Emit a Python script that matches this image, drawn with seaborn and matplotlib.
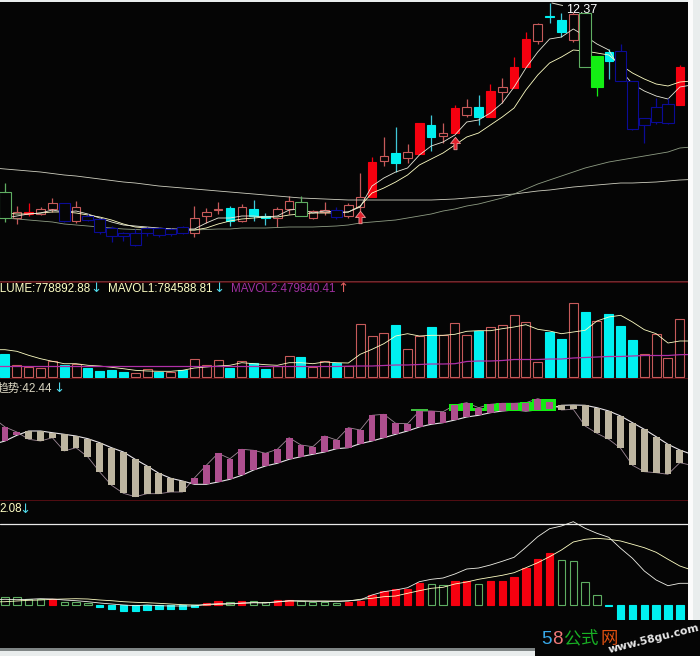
import numpy as np
import pandas as pd
import seaborn as sns
import matplotlib.pyplot as plt
from matplotlib.path import Path
from matplotlib.patches import Rectangle

# candles, index 0..57
high = [8.81,8.35,8.41,8.33,8.51,8.41,8.45,8.19,8.11,7.95,7.83,7.89,7.93,7.93,7.91,7.95,8.35,8.31,8.43,8.35,
        8.39,8.47,8.21,8.33,8.55,8.55,8.27,8.43,8.33,8.41,9.01,9.33,9.73,9.93,9.59,10.01,10.17,10.01,10.37,10.49,
        10.57,10.79,10.91,11.33,11.83,12.01,12.41,12.21,12.23,12.21,11.35,11.49,11.59,10.85,10.11,10.51,10.51,11.17]
body_top = [8.63,8.23,8.23,8.29,8.41,8.41,8.33,8.15,8.09,7.91,7.81,7.81,7.91,7.91,7.89,7.93,8.11,8.23,8.29,8.31,
            8.33,8.29,8.15,8.29,8.45,8.43,8.25,8.27,8.27,8.37,8.53,9.23,9.35,9.41,9.43,10.01,9.97,9.81,10.31,10.33,
            10.33,10.65,10.73,11.13,11.69,11.99,12.15,12.07,12.19,12.21,11.35,11.43,11.45,10.85,10.11,10.33,10.39,11.13]
body_bot = [8.11,8.11,8.19,8.19,8.29,8.05,8.05,8.07,7.83,7.75,7.75,7.57,7.81,7.77,7.79,7.81,7.81,8.15,8.27,8.05,
            8.05,8.15,8.11,8.11,8.29,8.15,8.11,8.23,8.13,8.15,8.33,8.53,9.25,9.21,9.31,9.39,9.73,9.75,9.81,10.17,
            10.13,10.13,10.63,10.71,11.13,11.65,12.14,11.83,11.67,11.13,10.73,11.25,10.85,9.89,9.97,10.03,10.01,10.37]
low = [8.03,7.99,8.15,8.17,8.23,8.03,8.01,8.05,7.79,7.63,7.65,7.55,7.75,7.73,7.75,7.79,7.73,8.01,8.19,7.95,
       8.03,8.05,7.97,7.93,8.19,8.15,8.09,8.17,8.09,8.11,8.23,8.53,9.15,9.03,9.21,9.39,9.45,9.61,9.81,10.13,
       9.97,10.13,10.41,10.71,11.13,11.59,12.01,11.73,11.63,11.13,10.55,10.89,10.85,9.87,9.61,9.99,9.99,10.37]
candle_kind = ['green','hollow','red','hollow','hollow','blue','hollow','blue','blue','blue',
               'blue','blue','blue','blue','blue','blue','hollow','hollow','hollow','cyan',
               'hollow','cyan','cyan','hollow','hollow','green','hollow','hollow','blue','hollow',
               'hollow','red','hollow','cyan','hollow','red','cyan','hollow','red','hollow',
               'cyan','red','hollow','red','red','hollow','cyan','cyan','hollow','green',
               'greenfill','cyan','blue','blue','blue','blue','blue','red']
signal_idx = [30, 38]
signal_price = [8.13, 9.61]

# moving averages run one step past each end, index -1..58
ma5 = [8.10,8.11,8.15,8.19,8.21,8.27,8.23,8.25,8.19,8.11,8.03,7.97,7.95,7.93,7.91,7.89,7.89,7.89,8.01,8.11,8.11,
       8.15,8.15,8.13,8.15,8.27,8.29,8.21,8.25,8.23,8.23,8.33,8.75,8.91,9.03,9.11,9.37,9.55,9.63,9.77,10.03,
       10.07,10.21,10.41,10.73,11.11,11.43,11.69,11.73,11.89,11.75,11.59,11.47,11.07,10.79,10.65,10.55,10.49,10.73,10.77]
ma10 = [8.21,8.21,8.19,8.19,8.21,8.23,8.23,8.21,8.17,8.13,8.07,7.99,7.93,7.91,7.89,7.89,7.87,7.87,7.91,7.99,8.05,
        8.09,8.11,8.13,8.13,8.17,8.19,8.21,8.21,8.21,8.23,8.35,8.61,8.71,8.83,8.97,9.17,9.29,9.41,9.57,9.73,
        9.81,9.97,10.13,10.31,10.67,10.97,11.21,11.33,11.47,11.45,11.41,11.37,11.17,11.01,10.89,10.79,10.75,10.83,10.85]
ma30 = [9.11,9.09,9.07,9.05,9.03,9.00,8.97,8.95,8.92,8.89,8.86,8.83,8.81,8.78,8.75,8.73,8.71,8.69,8.67,8.65,8.63,
        8.61,8.59,8.57,8.55,8.53,8.51,8.50,8.49,8.48,8.47,8.47,8.47,8.47,8.47,8.47,8.47,8.47,8.48,8.49,8.51,
        8.53,8.55,8.57,8.59,8.62,8.65,8.67,8.70,8.73,8.75,8.77,8.79,8.81,8.81,8.82,8.83,8.85,8.87,8.88]
ma60 = [8.13,8.11,8.09,8.07,8.05,8.03,7.99,7.97,7.95,7.93,7.91,7.89,7.88,7.87,7.87,7.87,7.87,7.87,7.88,7.89,7.89,
        7.91,7.91,7.91,7.92,7.93,7.93,7.93,7.94,7.95,7.97,8.01,8.03,8.05,8.07,8.11,8.15,8.19,8.25,8.29,8.35,
        8.39,8.45,8.51,8.59,8.69,8.79,8.87,8.95,9.03,9.11,9.17,9.23,9.27,9.31,9.35,9.39,9.43,9.51,9.53]

# volume panel, in chart units
volume = [22.7,11.7,10,9,16,12.3,13.3,9,5.7,6.7,5,4.3,8.3,5,5,6.7,18.3,12.3,16.7,9,
          15.7,14.3,7.7,10.7,20.7,20,10,16,14.3,11,53.3,41.3,44.3,51.7,28.3,40.7,49.7,41.7,54.3,42.3,
          46.3,49.7,52.3,62.3,55,15.3,44.7,38,74.3,64.7,55.7,62.7,50.7,36.7,23.3,43.3,19.3,58.3]
vol_kind = ['down','up','up','up','up','down','up','down','down','down',
            'down','up','up','down','up','down','up','up','up','down',
            'up','down','down','up','up','down','up','up','down','up',
            'up','up','up','down','up','up','down','up','up','up',
            'down','up','up','up','up','up','down','down','up','down',
            'up','down','down','down','up','up','up','up']
mavol1 = [27.3,27.3,25.7,21.7,18.3,15.7,13.3,13.3,11.7,11,9.7,8.3,6.7,6,5.7,5.7,6.7,9,10,11,11.7,
          14.3,13.3,12.3,11.7,14.3,14.3,13.3,15,14.3,14,22.7,27.7,33.3,41,43.3,41,41.7,41.7,42.7,45.7,
          46.3,46.3,48.3,50,52.3,47.7,46,43.3,45,46.7,56,60,61.7,55,47.3,43.3,34,36,36]
mavol2 = [10.5,10.5,10.5,10.5,10.5,10.5,10.5,10.5,10.5,10.5,10.5,10.5,10.5,10.5,10.5,10.5,10.5,10.5,10.5,10.5,10.5,
          10.5,10.5,10.5,10.5,10.5,10.5,10.5,10.5,10.5,10.8,11,11,11.5,12,12,12.5,13,13,13.3,15.5,
          16,16,16.5,17.5,17.5,17.5,18,18,19,19.5,20,20.5,20.5,21,21.5,21.5,21.5,22.3,22.5]

# trend panel
trend_slow = [56.7,60,65.7,70,70,68.3,66.7,65,62.3,58.3,53.3,49,41.7,35,27.7,22.7,20,16.7,16.7,19,21.7,
              25.7,31,35,37.7,41.7,44.3,46.7,49,52.3,53.3,57.3,60,63.3,66.7,70,74,76.7,78.3,81,84,
              85.7,88.3,90,91,90,91,92.3,95.7,96,95.7,93.3,90,85,78.3,71.7,64.3,56.7,51,46.7]
trend_fast = [83.3,74,69,61.7,60,63.3,50,53.3,44,29,15.7,7.7,4.3,7.3,7.3,9,9,23,35.7,47.7,42.3,
              51.7,50.7,47.7,51.7,63.3,56,54.3,65,61,73.3,71,85.7,86.7,77.7,77.3,90,90,89.3,96,98.3,
              93.3,96.7,97.7,97.7,98.3,102.3,99,91,91.7,75,67.7,61.7,52.7,35.7,29.3,28.3,26.7,38.3,35.7]
green_idx = [38,39,40,41,42,43,44,45,46]
green_top = [96.7,98.3,93.3,96.7,97.7,97.7,99,102.3,101.7]
green_floor = 90

# macd panel
macd = [8.3,7.7,6.3,5.7,5.7,3.3,2.7,1.7,-2.3,-4.3,-6,-6,-5,-4.3,-3.7,-4,-2,2.3,4.3,2.7,
        4.3,4,2.7,4.7,5.3,4,3.3,3.3,2,3.3,4,10,14.3,15.7,16.3,22.3,21,19.7,24,24.3,
        21,24,24,28.3,37,46,51.7,44.7,43.7,22.7,9.7,-0.7,-15,-15.7,-15.7,-15.7,-15.7,-15.7]
macd_kind = ['flat','flat','flat','flat','rise','flat','flat','flat','fall','fall',
             'fall','fall','fall','fall','fall','fall','fall','rise','rise','flat',
             'rise','flat','flat','rise','rise','flat','flat','flat','flat','rise',
             'rise','rise','rise','rise','rise','rise','flat','flat','rise','rise',
             'flat','rise','rise','rise','rise','rise','rise','flat','flat','flat',
             'flat','fall','fall','fall','fall','fall','fall','fall']
dea = [3,3.3,4,4.7,5,5.7,6,6.3,6,5,4.3,3.3,2.7,2.3,1.7,1,0.3,0,0,0.7,1,1.7,2.3,2.3,3,4,4,4,4,4,4,
       5.7,6.7,8.3,9,11.7,14.3,16.7,17.7,21,23,25.7,27.7,29.7,32.3,37.3,42.3,48.3,55,63,65.7,
       66.7,65.7,64,60.7,57.3,52.7,45.7,39,35]
dif = [5,5.7,5.3,5.7,6.3,6,5,4.3,3.3,2,1,0,-0.7,0,-0.7,-1,-1,-1,0.7,1.3,1.3,2,2.3,2,3.3,4.3,4,3.7,3.7,3.3,4.3,
       5,10,13.3,15,17.3,23.3,25.7,27,31,36,37,40,43.7,47.7,57.7,68.3,76.3,79,83.3,76.7,
       71.7,67.7,56.7,46.7,34,25,19.3,21.7,21.7]
macd_ref = 81

BG = '#050505'
OUTSIDE = '#e9eded'
SALMON = '#c65a5a'
RED = '#f5000f'
CYAN = '#00f0f0'
GREEN = '#5fae62'
LIME = '#14ee14'
BLUE = '#0b0b96'
PALE = '#ffffc4'
SEP = '#5c0f14'
MAUVE = '#ad4f8e'
BEIGE = '#bdb5a0'
ARROW = '#50d8e8'

sns.set_theme(style='dark', rc={'axes.facecolor': BG, 'figure.facecolor': OUTSIDE})
plt.rcParams['font.family'] = ['Liberation Sans', 'Noto Sans CJK SC', 'DejaVu Sans']

W, H = 700, 656
fig = plt.figure(figsize=(W / 100, H / 100), dpi=100)
line_idx = np.arange(-1, 59)
bar_idx = np.arange(58)


def panel(top, bottom, ylim):
    ax = fig.add_axes([0, 1 - bottom / H, 688 / W, (bottom - top) / H])
    ax.set_ylim(*ylim)
    return ax


def finish(ax):
    ax.set_xlim(-0.422, 57.69)
    ax.set_xticks([])
    ax.set_yticks([])
    ax.set_xlabel('')
    ax.set_ylabel('')
    for side in ax.spines:
        ax.spines[side].set_visible(False)


def draw_line(ax, y, color, lw=0.6, zorder=3):
    sns.lineplot(x=line_idx, y=y, ax=ax, color=color, linewidth=lw, estimator=None,
                 legend=False, zorder=zorder)


def draw_kind_bars(ax, values, kinds, faces, edges, width):
    df = pd.DataFrame({'i': bar_idx, 'v': values, 'kind': kinds})
    order = list(faces)
    sns.barplot(data=df, x='i', y='v', hue='kind', hue_order=order, palette=faces, dodge=False,
                native_scale=True, width=width, saturation=1, legend=False, ax=ax, zorder=2)
    for box, name in zip(ax.containers, order):
        for rect in box:
            rect.set_edgecolor(edges[name])
            rect.set_linewidth(0.8)


def label(ax, px, y, text, color, size=8.4, **kw):
    ax.text(px / 688, y, text, transform=ax.transAxes, color=color, fontsize=size, va='center', **kw)


# price panel
ax1 = panel(2, 281, (6.85, 12.43))
candles = pd.DataFrame({'i': bar_idx, 'high': high, 'top': body_top, 'bot': body_bot, 'low': low, 'kind': candle_kind})
styles = {'hollow': (BG, SALMON, 2, 0.72), 'red': (RED, RED, 2, 0.72), 'cyan': (CYAN, CYAN, 2, 0.72),
          'green': (BG, GREEN, 4, 0.95), 'greenfill': (LIME, LIME, 4, 0.95), 'blue': (BG, BLUE, 4, 0.95)}
for kind, (face, edge, z, wid) in styles.items():
    part = candles[candles['kind'] == kind]
    wick = edge if kind != 'cyan' else '#40c8d8'
    ax1.vlines(part['i'], part['low'], part['high'], color=wick, linewidth=0.9, zorder=z - 0.5)
    ax1.bar(part['i'], part['top'] - part['bot'], bottom=part['bot'], width=wid,
            facecolor=face, edgecolor=edge, linewidth=0.8, zorder=z)

draw_line(ax1, ma30, '#cfcfc0')
draw_line(ax1, ma60, '#8f9d84')
draw_line(ax1, ma10, PALE)
draw_line(ax1, ma5, '#e8e8d8')

arrow_marker = Path([(-0.25, -1), (0.25, -1), (0.25, 0), (0.8, 0), (0, 1), (-0.8, 0), (-0.25, 0), (-0.25, -1)], closed=True)
ax1.scatter(signal_idx, signal_price, marker=arrow_marker, s=80, color='#e0202c',
            edgecolor='#e89a9a', linewidth=0.6, zorder=5)
ax1.annotate('12.37', xy=(46.2, 12.41), xytext=(10, -5), textcoords='offset points', color='white',
             fontsize=9, va='center', arrowprops=dict(arrowstyle='-', color='#e0e0d0', linewidth=0.7, shrinkA=0, shrinkB=0))
finish(ax1)

# volume panel
ax2 = panel(282, 379, (-2, 95))
draw_kind_bars(ax2, volume, vol_kind, {'up': BG, 'down': CYAN}, {'up': SALMON, 'down': CYAN}, 0.76)
draw_line(ax2, mavol1, PALE)
draw_line(ax2, mavol2, '#b030a8', lw=0.9)
finish(ax2)
ax2.spines['top'].set_visible(True)
ax2.spines['bottom'].set_visible(True)
ax2.spines['top'].set_color(SEP)
ax2.spines['bottom'].set_color(SEP)
label_y = 0.93
label(ax2, -16, label_y, 'VOLUME:778892.88', PALE, clip_on=True)
label(ax2, 90, label_y, '↓', ARROW, size=9.5, family='DejaVu Sans')
label(ax2, 108, label_y, 'MAVOL1:784588.81', PALE)
label(ax2, 213, label_y, '↓', ARROW, size=9.5, family='DejaVu Sans')
label(ax2, 231, label_y, 'MAVOL2:479840.41', '#a030a0')
label(ax2, 337, label_y, '↑', '#e06060', size=9.5, family='DejaVu Sans')

# trend panel
ax3 = panel(379, 501, (0, 122))
slow = np.array(trend_slow)[1:-1]
fast = np.array(trend_fast)[1:-1]
ax3.bar(green_idx, np.array(green_top) - green_floor, bottom=green_floor, width=1.0, color=LIME, linewidth=0, zorder=3.5)
ax3.bar([35], [2.3], bottom=[90], width=1.4, color='#40c040', linewidth=0, zorder=3.5)
rising = fast > slow
ax3.bar(bar_idx, fast - slow, bottom=slow, width=0.58, linewidth=0, zorder=4,
        color=[MAUVE if r else BEIGE for r in rising])
draw_line(ax3, trend_fast, '#a08a98', lw=0.6)
draw_line(ax3, trend_slow, '#e8e4e8', lw=0.8)
finish(ax3)
ax3.spines['bottom'].set_visible(True)
ax3.spines['bottom'].set_color(SEP)
label(ax3, -3, 0.925, '趋势:42.44', '#d8d4c0', clip_on=True)
label(ax3, 53, 0.925, '↓', ARROW, size=9.5, family='DejaVu Sans')

# macd panel
ax4 = panel(501, 648, (-43, 104))
draw_kind_bars(ax4, macd, macd_kind, {'rise': RED, 'flat': BG, 'fall': CYAN},
               {'rise': RED, 'flat': GREEN, 'fall': CYAN}, 0.62)
ax4.axhline(macd_ref, color='#e8e8e8', linewidth=0.9, zorder=2)
draw_line(ax4, dea, PALE)
draw_line(ax4, dif, '#f0f0e8')
finish(ax4)
label(ax4, -1, 0.945, '2.08', PALE)
label(ax4, 19, 0.945, '↓', ARROW, size=9.5, family='DejaVu Sans')

# window edge and site badge
fig.add_artist(Rectangle((688 / W, 0), 5 / W, 1, transform=fig.transFigure, facecolor='#fbfbfb', edgecolor='none'))
fig.add_artist(Rectangle((0, 1 - 651 / H), 688 / W, 3 / H, transform=fig.transFigure, facecolor='#7f8585', edgecolor='none'))
fig.add_artist(Rectangle((535 / W, 0), 165 / W, 36 / H, transform=fig.transFigure, facecolor=BG, edgecolor='none', zorder=5))
badge = [('5', 541, '#38a8e8', 13.5), ('8', 552, '#f07878', 13.5), ('公', 563, '#18b024', 12.5),
         ('式', 581, '#18b024', 12.5), ('网', 601, '#e05010', 12.5)]
for ch, px, col, size in badge:
    fig.text(px / W, 1 - 644 / H, ch, color=col, fontsize=size, va='baseline', zorder=6)
fig.text(654 / W, 1 - 639 / H, 'www.58gu.com', color='#e8e8e8', fontsize=7.8, fontweight='bold',
         rotation=14, ha='center', va='center', family='DejaVu Sans', zorder=6)

fig.savefig('out.png', dpi=100, facecolor=fig.get_facecolor())
